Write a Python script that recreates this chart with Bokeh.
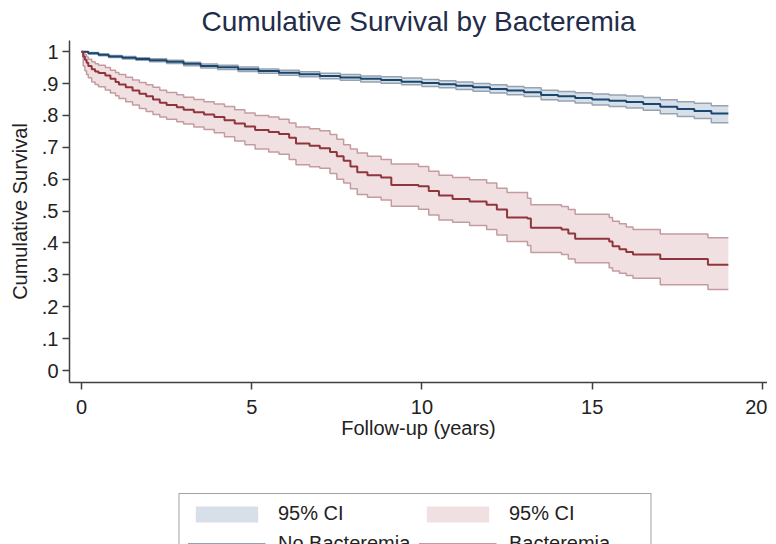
from bokeh.plotting import figure
from bokeh.models import FixedTicker, Legend, LegendItem, Range1d
from bokeh.embed import file_html
from bokeh.resources import INLINE

# ---------------- data ----------------
# No Bacteremia: follow-up time (years), survival, lower CI, upper CI
nb_time = [0.0, 0.2, 0.5, 0.8, 1.2, 1.6, 2.0, 2.5, 3.0, 3.5, 4.0, 4.6, 5.2, 5.8,
           6.4, 7.0, 7.6, 8.2, 8.8, 9.4, 10.0, 10.5, 11.0, 11.5, 12.0, 12.5,
           13.0, 13.5, 14.0, 14.5, 15.0, 15.5, 16.0, 16.5, 17.0, 17.5, 18.0,
           18.5, 19.0]
nb_surv = [1.000, 0.995, 0.990, 0.985, 0.981, 0.977, 0.973, 0.968, 0.962, 0.955,
           0.951, 0.945, 0.939, 0.934, 0.929, 0.924, 0.919, 0.915, 0.911, 0.906,
           0.902, 0.898, 0.893, 0.888, 0.883, 0.878, 0.873, 0.864, 0.860, 0.855,
           0.850, 0.846, 0.842, 0.836, 0.827, 0.820, 0.814, 0.806, 0.806]
nb_lower = [1.000, 0.993, 0.987, 0.982, 0.977, 0.973, 0.968, 0.963, 0.956, 0.949,
            0.944, 0.938, 0.932, 0.926, 0.921, 0.915, 0.910, 0.905, 0.901, 0.896,
            0.891, 0.887, 0.881, 0.876, 0.870, 0.865, 0.859, 0.849, 0.845, 0.839,
            0.833, 0.828, 0.823, 0.816, 0.805, 0.797, 0.790, 0.777, 0.777]
nb_upper = [1.000, 0.997, 0.993, 0.988, 0.985, 0.981, 0.978, 0.973, 0.967, 0.961,
            0.957, 0.952, 0.946, 0.942, 0.937, 0.932, 0.928, 0.924, 0.921, 0.917,
            0.913, 0.909, 0.905, 0.900, 0.896, 0.891, 0.887, 0.879, 0.875, 0.871,
            0.867, 0.864, 0.861, 0.856, 0.849, 0.843, 0.838, 0.830, 0.830]

# Bacteremia
b_time = [0.00, 0.05, 0.10, 0.15, 0.20, 0.30, 0.40, 0.50, 0.70, 0.85, 1.00, 1.10,
          1.30, 1.50, 1.70, 1.90, 2.10, 2.30, 2.50, 2.80, 3.00, 3.30, 3.60, 3.90,
          4.20, 4.50, 4.80, 5.10, 5.50, 5.80, 6.10, 6.30, 6.70, 7.00, 7.30, 7.50,
          7.70, 7.90, 8.10, 8.40, 8.80, 9.10, 9.90, 10.20, 10.50, 10.90, 11.40,
          11.90, 12.20, 12.50, 13.10, 13.20, 14.10, 14.30, 14.50, 15.50, 15.60,
          15.80, 16.00, 16.20, 17.00, 18.40, 19.00]
b_surv = [1.000, 0.985, 0.975, 0.965, 0.955, 0.945, 0.938, 0.933, 0.925, 0.915,
          0.905, 0.897, 0.888, 0.878, 0.868, 0.860, 0.850, 0.840, 0.833, 0.826,
          0.818, 0.810, 0.803, 0.795, 0.785, 0.775, 0.765, 0.754, 0.748, 0.742,
          0.730, 0.712, 0.705, 0.697, 0.685, 0.672, 0.658, 0.640, 0.622, 0.612,
          0.605, 0.582, 0.578, 0.563, 0.549, 0.538, 0.530, 0.520, 0.505, 0.480,
          0.477, 0.448, 0.442, 0.430, 0.413, 0.405, 0.390, 0.380, 0.372, 0.364,
          0.350, 0.332, 0.332]
b_lower = [1.000, 0.955, 0.940, 0.928, 0.918, 0.905, 0.897, 0.890, 0.880, 0.870,
           0.862, 0.853, 0.843, 0.833, 0.822, 0.812, 0.803, 0.795, 0.788, 0.780,
           0.773, 0.764, 0.756, 0.746, 0.733, 0.720, 0.708, 0.695, 0.685, 0.678,
           0.662, 0.645, 0.639, 0.634, 0.618, 0.600, 0.588, 0.570, 0.552, 0.543,
           0.535, 0.515, 0.506, 0.488, 0.472, 0.465, 0.455, 0.442, 0.425, 0.405,
           0.392, 0.370, 0.364, 0.350, 0.338, 0.322, 0.312, 0.305, 0.298, 0.289,
           0.269, 0.254, 0.254]
b_upper = [1.000, 0.995, 0.990, 0.983, 0.976, 0.968, 0.962, 0.957, 0.950, 0.942,
           0.935, 0.928, 0.920, 0.911, 0.903, 0.896, 0.888, 0.879, 0.872, 0.865,
           0.857, 0.850, 0.843, 0.836, 0.828, 0.818, 0.808, 0.800, 0.795, 0.788,
           0.776, 0.764, 0.758, 0.752, 0.740, 0.725, 0.708, 0.695, 0.682, 0.672,
           0.662, 0.648, 0.640, 0.625, 0.612, 0.605, 0.598, 0.588, 0.572, 0.558,
           0.540, 0.520, 0.514, 0.505, 0.490, 0.480, 0.468, 0.460, 0.450, 0.442,
           0.428, 0.416, 0.416]

x_ticks = [0, 5, 10, 15, 20]
y_ticks = [0, 0.1, 0.2, 0.3, 0.4, 0.5, 0.6, 0.7, 0.8, 0.9, 1.0]
y_tick_labels = ["0", ".1", ".2", ".3", ".4", ".5", ".6", ".7", ".8", ".9", "1"]

title_text = "Cumulative Survival by Bacteremia"
x_label = "Follow-up (years)"
y_label = "Cumulative Survival"
ci_label = "95% CI"
series_labels = ["No Bacteremia", "Bacteremia"]

# ---------------- styling ----------------
FONT = "Liberation Sans"
BLUE_LINE = "#1a476f"
BLUE_FILL = "#d7dfe9"
BLUE_EDGE = "#97a3b1"
RED_LINE = "#90353b"
RED_FILL = "#f1e0e2"
RED_EDGE = "#c49ca0"
AXIS_COL = "#404040"

p = figure(frame_width=698, frame_height=342, output_backend="svg",
           toolbar_location=None, sizing_mode="fixed",
           x_range=Range1d(-0.352, 20.15), y_range=Range1d(-0.0376, 1.035),
           min_border_left=69, min_border_right=0, min_border_top=0,
           min_border_bottom=0, title=title_text)
p.title.align = "center"
p.title.text_font = FONT
p.title.text_font_size = "28px"
p.title.text_font_style = "normal"
p.title.text_color = "#1f2c4a"
p.title.standoff = 7
p.title.offset = 0
p.outline_line_color = None
p.grid.visible = False
p.background_fill_color = "white"
p.border_fill_color = "white"

# CI areas
nb_area = p.varea_step(x=nb_time, y1=nb_lower, y2=nb_upper, step_mode="after",
                       fill_color=BLUE_FILL, fill_alpha=1.0)
b_area = p.varea_step(x=b_time, y1=b_lower, y2=b_upper, step_mode="after",
                      fill_color=RED_FILL, fill_alpha=1.0)
for t, lo, hi, col in [(nb_time, nb_lower, nb_upper, BLUE_EDGE),
                       (b_time, b_lower, b_upper, RED_EDGE)]:
    p.step(t, lo, mode="after", line_color=col, line_width=1.5)
    p.step(t, hi, mode="after", line_color=col, line_width=1.5)

nb_line = p.step(nb_time, nb_surv, mode="after", line_color=BLUE_LINE, line_width=2)
b_line = p.step(b_time, b_surv, mode="after", line_color=RED_LINE, line_width=2)

# axes
for ax in (p.xaxis[0], p.yaxis[0]):
    ax.axis_line_color = AXIS_COL
    ax.axis_line_width = 1.5
    ax.major_tick_line_color = AXIS_COL
    ax.major_tick_line_width = 1.5
    ax.major_tick_in = 0
    ax.major_tick_out = 7
    ax.minor_tick_line_color = None
    ax.major_label_text_font = FONT
    ax.major_label_text_font_size = "20px"
    ax.major_label_text_color = "#222222"
    ax.axis_label_text_font = FONT
    ax.axis_label_text_font_size = "20px"
    ax.axis_label_text_font_style = "normal"
    ax.axis_label_text_color = "#222222"

p.xaxis.ticker = FixedTicker(ticks=x_ticks)
p.xaxis.axis_label = x_label
p.xaxis.major_label_standoff = 10
p.xaxis.axis_label_standoff = 0

p.yaxis.ticker = FixedTicker(ticks=y_ticks)
p.yaxis.major_label_overrides = {v: s for v, s in zip(y_ticks, y_tick_labels)}
p.yaxis.major_label_orientation = "horizontal"
p.yaxis.axis_label = y_label
p.yaxis.major_label_standoff = 4
p.yaxis.axis_label_standoff = 8

legend = Legend(items=[
    LegendItem(label=ci_label, renderers=[nb_area]),
    LegendItem(label=ci_label, renderers=[b_area]),
    LegendItem(label=series_labels[0], renderers=[nb_line]),
    LegendItem(label=series_labels[1], renderers=[b_line]),
], orientation="horizontal", ncols=2)
legend.location = "top_center"
legend.border_line_color = "#444444"
legend.border_line_width = 1.5
legend.padding = 8
legend.margin = 8
legend.spacing = 7
legend.glyph_width = 78
legend.glyph_height = 20
legend.label_height = 20
legend.label_width = 134
legend.label_standoff = 12
legend.label_text_font = FONT
legend.label_text_font_size = "20px"
legend.label_text_color = "#222222"
legend.background_fill_color = "white"
p.add_layout(legend, "below")

open("out.html", "w").write(file_html(p, INLINE))
